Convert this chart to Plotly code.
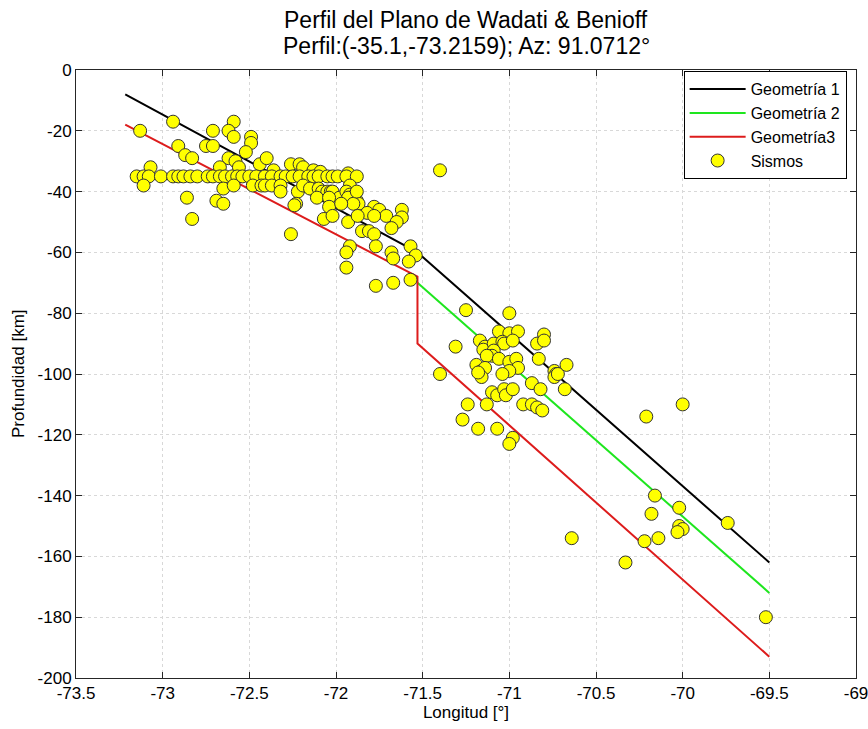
import plotly.graph_objects as go

# perfil de geometrias (longitud, profundidad)
geo1_lon = [-73.2159, -71.53, -69.5]
geo1_prof = [-8, -60, -162]
geo2_lon = [-71.53, -69.5]
geo2_prof = [-70, -172]
geo3_lon = [-73.2159, -71.53, -71.53, -69.5]
geo3_prof = [-18, -68, -90, -193]

sis_lon = [
    -73.13, -72.94, -72.59, -72.71, -72.62, -72.59, -72.49, -72.49, -72.91, -72.75,
    -72.71, -72.87, -72.83, -72.52, -72.62, -72.58, -72.44, -72.40, -73.07, -72.67,
    -72.56, -72.36, -72.26, -72.21, -72.19, -72.13, -72.09, -71.93,
    -73.15, -73.11, -73.08, -73.01, -72.94, -72.91, -72.88, -72.84, -72.80, -72.74,
    -72.71, -72.67, -72.64, -72.60, -72.57, -72.54, -72.50, -72.46, -72.41, -72.37,
    -72.32, -72.29, -72.25, -72.21, -72.16, -72.13, -72.10, -72.05, -72.02, -71.99,
    -71.94, -71.88,
    -73.11, -72.65, -72.59, -72.48, -72.43, -72.41, -72.37, -72.32, -72.32, -72.22,
    -72.19, -72.15, -72.10, -72.08, -72.05, -72.03, -72.02, -71.98, -72.11, -72.04,
    -71.92, -71.94, -71.92, -71.90, -71.91, -71.89, -71.88, -71.87, -71.93, -71.90,
    -71.88, -72.86, -72.69, -72.65, -72.23, -72.24, -72.04, -71.97, -71.78, -71.82,
    -72.07, -72.02, -71.93, -71.875, -72.83, -72.26, -71.85, -71.81, -71.78, -71.75,
    -71.71, -71.78, -71.62, -71.62, -71.65, -71.68, -71.92, -71.94, -71.94, -71.77,
    -71.68, -71.67, -71.57, -71.54, -71.58, -71.57, -71.77, -71.67, -71.40,
    -71.25, -71.00, -71.31, -71.40, -71.06, -71.00, -70.95, -70.80, -70.84, -70.80,
    -71.17, -71.14, -71.15, -71.09, -71.04, -71.03, -70.98, -71.09, -71.10, -71.13,
    -71.06, -71.00, -70.96, -70.95, -71.00, -70.83, -71.19, -71.16, -71.14, -71.16,
    -71.18, -71.04, -70.87, -70.82, -70.74, -70.73, -70.74, -70.72, -70.67, -70.68,
    -71.10, -71.07, -71.03, -71.02, -70.98, -71.24, -71.13, -70.92, -70.87, -70.84,
    -70.81, -71.27, -71.18, -71.07, -70.98, -71.00,
    -70.21, -70.00, -70.16, -70.02, -70.18, -70.02, -70.00, -70.03, -69.74, -70.64,
    -70.22, -70.14, -70.33, -69.52,
]
sis_prof = [
    -20, -17, -17, -20, -20, -22, -22, -24, -25, -25,
    -25, -28, -29, -27, -29, -30, -31, -29, -32, -32,
    -32, -33, -31, -31, -32, -33, -33.5, -34,
    -35, -35, -35, -35, -35, -35, -35, -35, -35, -35,
    -35, -35, -35, -35, -35, -35, -35, -35, -35, -35,
    -35, -35, -35, -35, -35, -35, -35, -35, -35, -35,
    -35, -35,
    -38, -39, -38, -38, -38, -38, -38, -38, -40, -40,
    -38, -39, -39, -40, -40, -40, -40, -42, -42, -42,
    -38, -40, -41, -42, -43, -41, -43, -44, -42, -44,
    -40, -42, -43, -44, -44, -44.5, -45, -44, -45, -47,
    -49, -48, -50, -48, -49, -54, -53, -53, -54, -46,
    -48, -48, -46, -48.5, -50, -52, -58, -60, -65, -58,
    -60, -62, -58, -61, -63, -69, -71, -70, -33,
    -79, -80, -91, -100, -86, -86.6, -86, -87, -90, -89,
    -89, -91, -92, -90, -89.4, -90, -89, -92.3, -94, -94,
    -95, -96, -95, -98, -99, -95, -97, -99, -98, -101,
    -99.5, -100, -103, -105, -99, -100, -101, -100, -97, -105,
    -106, -107, -105, -107, -105, -110, -110, -110, -110, -111,
    -112, -115, -118, -118, -121, -123,
    -114, -110, -140, -144, -146, -150, -151, -152, -149, -154,
    -155, -154, -162, -180,
]

x_ticks = [-73.5, -73, -72.5, -72, -71.5, -71, -70.5, -70, -69.5, -69]
x_labels = ['-73.5', '-73', '-72.5', '-72', '-71.5', '-71', '-70.5', '-70', '-69.5', '-69']
y_ticks = [0, -20, -40, -60, -80, -100, -120, -140, -160, -180, -200]
y_labels = ['0', '-20', '-40', '-60', '-80', '-100', '-120', '-140', '-160', '-180', '-200']

fig = go.Figure()
fig.add_trace(go.Scatter(x=geo1_lon, y=geo1_prof, mode='lines', name='Geometría 1',
                         line=dict(color='black', width=2)))
fig.add_trace(go.Scatter(x=geo2_lon, y=geo2_prof, mode='lines', name='Geometría 2',
                         line=dict(color='#1ee61e', width=2)))
fig.add_trace(go.Scatter(x=geo3_lon, y=geo3_prof, mode='lines', name='Geometría3',
                         line=dict(color='#dd1c1c', width=2)))
fig.add_trace(go.Scatter(x=sis_lon, y=sis_prof, mode='markers', name='Sismos',
                         marker=dict(color='#ffff00', size=13,
                                     line=dict(color='#333333', width=1))))

axis_style = dict(showline=True, linecolor='#262626', linewidth=1, mirror='ticks',
                  ticks='inside', ticklen=6, tickcolor='#262626', automargin=False,
                  ticklabeloverflow='allow',
                  showgrid=True, gridcolor='#d8d8d8', griddash='dot', gridwidth=1,
                  zeroline=False, tickfont=dict(size=17, color='black'))

fig.update_layout(
    width=868, height=729,
    margin=dict(l=76, r=12, t=70, b=51),
    paper_bgcolor='white', plot_bgcolor='white',
    font=dict(family='Liberation Sans, Arial, sans-serif', color='black'),
    legend=dict(x=0.988, y=0.998, xanchor='right', yanchor='top',
                bgcolor='white', bordercolor='black', borderwidth=1,
                font=dict(size=16), itemwidth=56, tracegroupgap=0),
    showlegend=True,
)
fig.add_annotation(text='Perfil del Plano de Wadati & Benioff',
                   xref='paper', yref='paper', x=0.5, y=1, xanchor='center', yanchor='middle',
                   yshift=50, showarrow=False, font=dict(size=23))
fig.add_annotation(text='Perfil:(-35.1,-73.2159); Az: 91.0712°',
                   xref='paper', yref='paper', x=0.5, y=1, xanchor='center', yanchor='middle',
                   yshift=24, showarrow=False, font=dict(size=23))
fig.add_annotation(text='Profundidad [km]', xref='paper', yref='paper', x=0, y=0.5,
                   xanchor='center', yanchor='middle', xshift=-58, textangle=-90,
                   showarrow=False, font=dict(size=17))
fig.update_xaxes(range=[-73.5, -69], tickvals=x_ticks, ticktext=x_labels,
                 title=dict(text='Longitud [°]', font=dict(size=17), standoff=2),
                 **axis_style)
fig.update_yaxes(range=[-200, 0], tickvals=y_ticks, ticktext=y_labels, **axis_style)

# sin margen de pagina para que la figura ocupe toda la ventana
fig.write_html("out.html", config={'displayModeBar': False},
               post_script="document.body.style.margin='0';document.body.style.overflow='hidden';")
